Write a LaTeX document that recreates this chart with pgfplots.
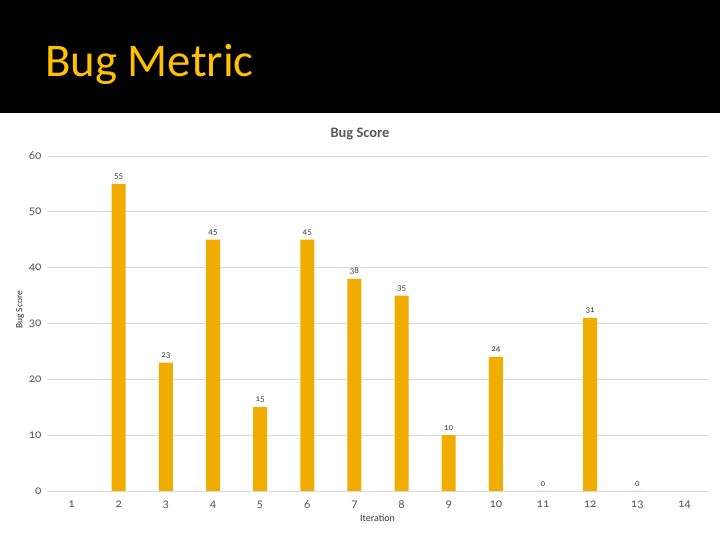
\documentclass[border=0pt]{standalone}
\usepackage{pgfplots}
\pgfplotsset{compat=1.18}
\usepackage{fontspec}
\setmainfont{Carlito}[Numbers=OldStyle]

\definecolor{bargold}{HTML}{F0AD00}
\definecolor{titlegold}{HTML}{FFC000}
\definecolor{txt}{HTML}{595959}
\definecolor{gridgray}{HTML}{D9D9D9}

\pgfplotstableread{
iter score
2 55
3 23
4 45
5 15
6 45
7 38
8 35
9 10
10 24
11 0
12 31
13 0
}\bugdata

\begin{document}
\begin{tikzpicture}[x=1bp,y=1bp]
% slide background
\fill[white] (0,0) rectangle (720,540);
\fill[black] (0,427) rectangle (720,540);
\node[anchor=base west, inner sep=0, text=titlegold,
      font=\fontsize{47}{50}\selectfont] at (45,463) {Bug Metric};

\begin{axis}[
    at={(48bp,49bp)}, anchor=south west,
    scale only axis,
    width=660bp, height=335bp,
    xmin=0.5, xmax=14.5,
    ymin=0, ymax=60,
    enlargelimits=false,
    xtick={1,...,14},
    ytick={0,10,...,60},
    axis line style={draw=none},
    major tick length=0pt,
    ymajorgrids=true,
    grid style={gridgray, line width=0.8pt},
    /pgf/number format/assume math mode=true,
    tick label style={text=txt, font=\fontsize{12.5}{13}\selectfont},
    yticklabel style={xshift=-3bp},
    xticklabel style={yshift=-6bp},
    ybar, bar width=14bp,
    nodes near coords,
    every node near coord/.append style={text=black!75,
        font=\fontsize{9}{10}\selectfont, yshift=1bp},
    clip=false,
]
\addplot[fill=bargold, draw=none] table[x=iter, y=score] {\bugdata};
\end{axis}

% chart title and axis titles
\node[anchor=base, text=txt, font=\fontsize{14.5}{16}\selectfont\bfseries]
     at (360,402) {Bug Score};
\node[rotate=90, text=black!80, font=\fontsize{9.5}{10}\selectfont]
     at (20,230) {Bug Score};
\node[anchor=base west, inner sep=0, text=black!80,
      font=\fontsize{10}{11}\selectfont] at (360,18) {Iteration};
\end{tikzpicture}
\end{document}
